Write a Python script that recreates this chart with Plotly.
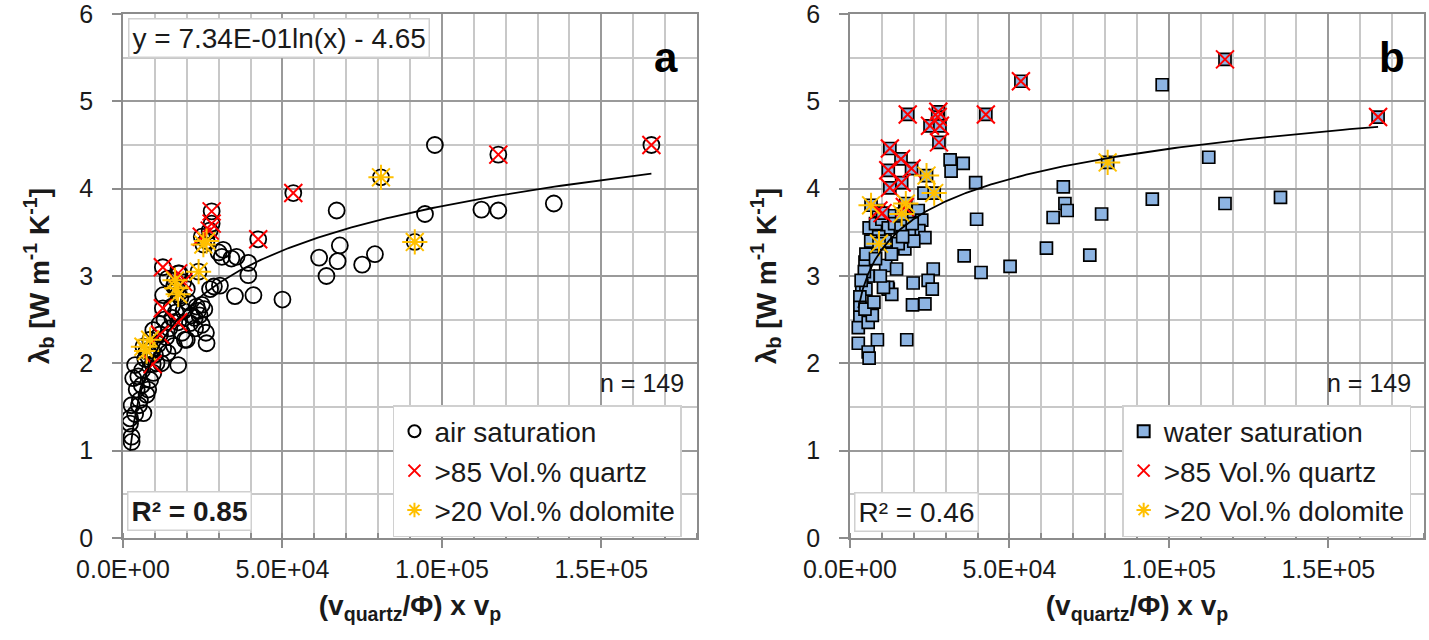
import numpy as np
import plotly.graph_objects as go
from plotly.subplots import make_subplots

# ---------------- data ----------------
# Panel a: air saturation (samples not flagged as quartz / dolomite rich)
air_x = [97800, 67000, 94700, 112400, 117700, 135100, 68000, 61500, 67300, 63800,
         75000, 79000, 50000, 31400, 35600, 31000, 39300, 39300, 30400, 35100,
         40900, 27300, 17700, 12600, 15300, 23100, 24700, 21000, 24700, 26000,
         20000, 26200, 9500, 22600, 19400, 12600, 17300, 3800, 9500, 3200,
         5900, 4300, 7400, 5300, 2700, 6400, 2200, 2200, 2700, 2700,
         8500, 7900, 5000, 3800, 10000, 11000, 13500, 14500, 15500, 16500,
         19000, 21500, 22500, 18000, 20000, 16000, 14000, 20500, 23500, 13000,
         11500, 10500, 7000, 6000, 4800, 9000, 12000, 14000, 16000, 18500,
         24000, 25500, 28500, 30000, 34000]
air_y = [4.50, 3.75, 3.71, 3.76, 3.75, 3.83, 3.35, 3.21, 3.17, 3.00,
         3.13, 3.25, 2.73, 3.30, 3.22, 3.22, 3.15, 3.01, 2.89, 2.77,
         2.78, 2.85, 3.03, 2.78, 2.65, 2.65, 2.67, 2.46, 2.44, 2.35,
         2.27, 2.23, 2.38, 2.40, 2.27, 2.17, 1.98, 1.98, 1.89, 1.83,
         1.75, 1.70, 1.64, 1.58, 1.52, 1.43, 1.37, 1.31, 1.16, 1.10,
         1.81, 1.70, 1.52, 1.42, 2.10, 2.22, 2.30, 2.40, 2.52, 2.58,
         2.60, 2.55, 2.52, 2.75, 2.85, 2.88, 2.97, 2.70, 2.60, 2.50,
         2.45, 2.00, 2.05, 1.92, 1.85, 2.15, 2.00, 2.12, 2.20, 2.35,
         2.55, 2.62, 2.88, 3.27, 3.20]
quartz_air_x = [12500, 17300, 18900, 12500, 17300, 11600, 9300, 27800, 27800, 27200,
                24700, 42400, 53400, 117700, 165700]
quartz_air_y = [3.10, 3.03, 2.93, 2.63, 2.47, 2.33, 1.99, 3.74, 3.60, 3.52,
                3.45, 3.42, 3.95, 4.39, 4.50]
dolo_air_x = [80900, 91500, 26200, 25200, 23700, 16300, 17300, 16800, 6400, 8500, 7400]
dolo_air_y = [4.13, 3.39, 3.40, 3.36, 3.05, 2.95, 2.79, 2.86, 2.19, 2.27, 2.14]

# Panel b: water saturation
water_x = [97900, 112500, 66900, 67400, 68100, 63700, 78900, 94800, 117600, 135000,
           61600, 75200, 50200, 41100, 35800, 39700, 39400, 31400, 35500, 31700,
           23200, 21400, 22500, 21600, 23500, 18600, 17200, 15100, 13100, 26100,
           24500, 25800, 19800, 11200, 14600, 12000, 19600, 23500, 17800, 8600,
           2600, 5700, 6000, 11800, 13100, 10500, 4700, 5700, 3700, 5000,
           3100, 3100, 3100, 2600, 5700, 7000, 4700, 7500, 6000, 8000,
           10000, 12000, 14000, 9000, 11000, 7000, 5000, 8000, 13000, 16000,
           18000, 19500, 20000, 6500, 4500, 9500, 3500, 16500]
water_y = [5.19, 4.36, 4.02, 3.83, 3.75, 3.67, 3.71, 3.88, 3.83, 3.90,
           3.32, 3.24, 3.11, 3.04, 3.23, 3.65, 4.07, 4.33, 4.29, 4.20,
           3.95, 3.75, 3.64, 3.52, 3.44, 3.49, 3.31, 3.37, 3.69, 3.08,
           2.95, 2.85, 2.92, 3.12, 3.08, 2.85, 2.67, 2.68, 2.27, 2.27,
           2.23, 2.13, 2.06, 2.87, 2.79, 2.87, 3.16, 3.00, 2.89, 2.85,
           2.76, 2.64, 2.53, 2.41, 2.47, 2.55, 2.62, 2.70, 3.55, 3.60,
           3.65, 3.55, 3.60, 3.45, 3.40, 3.30, 3.25, 3.20, 3.25, 3.55,
           3.65, 3.60, 3.40, 3.40, 3.05, 3.00, 2.95, 3.45]
quartz_water_x = [18100, 27700, 27500, 25100, 28200, 27900, 42600, 53600, 117600, 165600,
                  12500, 16000, 19300, 12000, 16200, 12500, 8900, 10200, 17200]
quartz_water_y = [4.85, 4.88, 4.82, 4.72, 4.72, 4.53, 4.85, 5.23, 5.48, 4.82,
                  4.46, 4.34, 4.23, 4.21, 4.07, 4.01, 3.75, 3.72, 3.79]
dolo_water_x = [80800, 24000, 26400, 6600, 17500, 16200, 9100]
dolo_water_y = [4.30, 4.15, 3.95, 3.81, 3.83, 3.71, 3.37]

# logarithmic trendlines  y = a ln(x) + b
trend_a = [0.734, 0.50]
trend_b = [-4.65, -1.30]

x_tickvals = [0, 50000, 100000, 150000]
x_ticktext = ["0.0E+00", "5.0E+04", "1.0E+05", "1.5E+05"]
y_tickvals = [0, 1, 2, 3, 4, 5, 6]

# ---------------- figure ----------------
FONT = "Liberation Sans, Arial, sans-serif"
TXT = "#1a1a1a"
RED = "#ff0000"
GOLD = "#ffc000"
BLUE = "#8db4e2"

fig = make_subplots(rows=1, cols=2, horizontal_spacing=0.1176)

# panel a
ax_all = air_x + quartz_air_x + dolo_air_x
ay_all = air_y + quartz_air_y + dolo_air_y
fig.add_trace(go.Scatter(x=ax_all, y=ay_all, mode="markers", name="air saturation",
                         legend="legend", legendgroup="a1",
                         marker=dict(symbol="circle-open", size=16, color="black",
                                     line=dict(width=1.8, color="black"))), row=1, col=1)
fig.add_trace(go.Scatter(x=quartz_air_x, y=quartz_air_y, mode="markers", name=">85 Vol.% quartz",
                         legend="legend", legendgroup="a2",
                         marker=dict(symbol="x-thin", size=18, color=RED,
                                     line=dict(width=2.0, color=RED))), row=1, col=1)
fig.add_trace(go.Scatter(x=dolo_air_x, y=dolo_air_y, mode="markers", name=">20 Vol.% dolomite",
                         legend="legend", legendgroup="a3",
                         marker=dict(symbol="asterisk", size=21, color=GOLD,
                                     line=dict(width=2.0, color=GOLD))), row=1, col=1)
xa = np.geomspace(min(ax_all), max(ax_all), 300)
fig.add_trace(go.Scatter(x=xa, y=trend_a[0] * np.log(xa) + trend_b[0], mode="lines",
                         line=dict(color="black", width=1.8), showlegend=False,
                         hoverinfo="skip"), row=1, col=1)

# panel b
wx_all = water_x + quartz_water_x + dolo_water_x
wy_all = water_y + quartz_water_y + dolo_water_y
fig.add_trace(go.Scatter(x=wx_all, y=wy_all, mode="markers", name="water saturation",
                         legend="legend2", legendgroup="b1",
                         marker=dict(symbol="square", size=12, color=BLUE,
                                     line=dict(width=1.7, color="black"))), row=1, col=2)
fig.add_trace(go.Scatter(x=quartz_water_x, y=quartz_water_y, mode="markers", name=">85 Vol.% quartz",
                         legend="legend2", legendgroup="b2",
                         marker=dict(symbol="x-thin", size=18, color=RED,
                                     line=dict(width=2.0, color=RED))), row=1, col=2)
fig.add_trace(go.Scatter(x=dolo_water_x, y=dolo_water_y, mode="markers", name=">20 Vol.% dolomite",
                         legend="legend2", legendgroup="b3",
                         marker=dict(symbol="asterisk", size=21, color=GOLD,
                                     line=dict(width=2.0, color=GOLD))), row=1, col=2)
xb = np.geomspace(min(wx_all), max(wx_all), 300)
fig.add_trace(go.Scatter(x=xb, y=trend_a[1] * np.log(xb) + trend_b[1], mode="lines",
                         line=dict(color="black", width=1.8), showlegend=False,
                         hoverinfo="skip"), row=1, col=2)

xaxis_common = dict(range=[0, 180000], tickvals=x_tickvals, ticktext=x_ticktext,
                    showgrid=True, gridcolor="#9a9a9a", gridwidth=1.5,
                    minor=dict(dtick=10000, tick0=0, showgrid=True, gridcolor="#c8c8c8",
                               gridwidth=1.5, ticks="inside", ticklen=5, tickcolor="#8c8c8c"),
                    ticks="outside", ticklen=8, tickcolor="#8c8c8c", tickwidth=1.5,
                    showline=True, linecolor="#8c8c8c", linewidth=1.5, mirror=True,
                    zeroline=False, tickfont=dict(family=FONT, size=25, color=TXT),
                    ticklabeloverflow="allow",
                    title=dict(text="<b>(v<sub>quartz</sub>/Φ) x v<sub>p</sub></b>",
                               font=dict(family=FONT, size=28, color=TXT), standoff=14),
                    automargin=False)
yaxis_common = dict(range=[0, 6], tickvals=y_tickvals,
                    showgrid=True, gridcolor="#9a9a9a", gridwidth=1.5,
                    minor=dict(dtick=0.5, tick0=0, showgrid=True, gridcolor="#c8c8c8",
                               gridwidth=1.5),
                    ticks="outside", ticklen=9, tickcolor="#8c8c8c", tickwidth=1.5,
                    ticklabelstandoff=14, ticklabeloverflow="allow",
                    showline=True, linecolor="#8c8c8c", linewidth=1.5, mirror=True,
                    zeroline=False, tickfont=dict(family=FONT, size=25, color=TXT),
                    title=dict(text="<b>λ<sub>b</sub> [W m<sup>-1</sup> K<sup>-1</sup>]</b>",
                               font=dict(family=FONT, size=28, color=TXT), standoff=22),
                    automargin=False)

fig.update_layout(
    width=1429, height=640,
    margin=dict(l=123, r=5, t=14, b=102),
    paper_bgcolor="white", plot_bgcolor="white",
    font=dict(family=FONT, color=TXT),
    xaxis=dict(xaxis_common, domain=[0, 0.4412]),
    xaxis2=dict(xaxis_common, domain=[0.5588, 1.0]),
    yaxis=dict(yaxis_common),
    yaxis2=dict(yaxis_common),
    legend=dict(x=0.2075, y=0.2538, xanchor="left", yanchor="top",
                bgcolor="white", bordercolor="#d0d0d0", borderwidth=1.5,
                font=dict(family=FONT, size=28, color=TXT), tracegroupgap=0,
                itemsizing="constant", itemwidth=30),
    legend2=dict(x=0.768, y=0.2538, xanchor="left", yanchor="top",
                 bgcolor="white", bordercolor="#d0d0d0", borderwidth=1.5,
                 font=dict(family=FONT, size=28, color=TXT), tracegroupgap=0,
                 itemsizing="constant", itemwidth=30),
    showlegend=True,
)

annots = [
    dict(x=1500, y=5.73, xref="x", yref="y", xanchor="left", yanchor="middle",
         text="y = 7.34E-01ln(x) - 4.65", showarrow=False,
         font=dict(family=FONT, size=28, color=TXT),
         bgcolor="white", bordercolor="#d0d0d0", borderwidth=1.5, borderpad=3),
    dict(x=170300, y=5.5, xref="x", yref="y", text="<b>a</b>", showarrow=False,
         font=dict(family=FONT, size=42, color="black")),
    dict(x=169900, y=5.5, xref="x2", yref="y2", text="<b>b</b>", showarrow=False,
         font=dict(family=FONT, size=42, color="black")),
    dict(x=176500, y=1.78, xref="x", yref="y", xanchor="right", text="n = 149",
         showarrow=False, font=dict(family=FONT, size=25, color=TXT)),
    dict(x=176500, y=1.78, xref="x2", yref="y2", xanchor="right", text="n = 149",
         showarrow=False, font=dict(family=FONT, size=25, color=TXT)),
    dict(x=1300, y=0.31, xref="x", yref="y", xanchor="left", yanchor="middle",
         text="<b>R² = 0.85</b>", showarrow=False,
         font=dict(family=FONT, size=28, color=TXT),
         bgcolor="white", bordercolor="#d0d0d0", borderwidth=1.5, borderpad=3),
    dict(x=1300, y=0.30, xref="x2", yref="y2", xanchor="left", yanchor="middle",
         text="R² = 0.46", showarrow=False,
         font=dict(family=FONT, size=28, color=TXT),
         bgcolor="white", bordercolor="#d0d0d0", borderwidth=1.5, borderpad=3),
]
fig.update_layout(annotations=annots)

fig.write_html("out.html", config={"displayModeBar": False},
               post_script="document.body.style.margin='0';document.body.style.overflow='hidden';")
